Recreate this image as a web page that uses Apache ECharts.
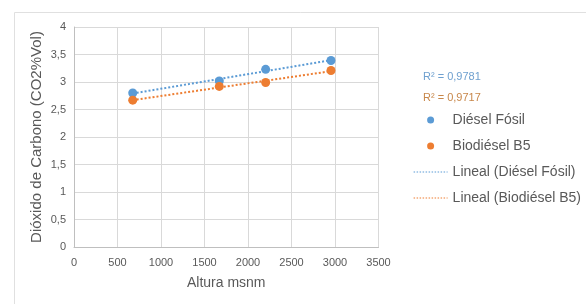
<!DOCTYPE html>
<html><head><meta charset="utf-8">
<script src="https://cdn.jsdelivr.net/npm/echarts@6/dist/echarts.min.js"></script>
<style>html,body{margin:0;padding:0;background:#fff}#c{width:586px;height:304px}</style>
</head><body><div id="c"></div>
<script>
var alturas = [675, 1670, 2203, 2954];
var dieselFosil = [2.80, 3.02, 3.23, 3.39];
var biodieselB5 = [2.67, 2.92, 2.99, 3.21];
var r2Labels = ['R² = 0,9781', 'R² = 0,9717'];
var seriesNames = ['Diésel Fósil', 'Biodiésel B5', 'Lineal (Diésel Fósil)', 'Lineal (Biodiésel B5)'];

function pairs(xs, ys){ return xs.map(function(x,i){return [x, ys[i]];}); }
function trend(xs, ys){
  var n = xs.length, sx=0, sy=0, sxy=0, sxx=0;
  for (var i=0;i<n;i++){ sx+=xs[i]; sy+=ys[i]; sxy+=xs[i]*ys[i]; sxx+=xs[i]*xs[i]; }
  var b = (n*sxy - sx*sy)/(n*sxx - sx*sx), a = (sy - b*sx)/n;
  var x0 = Math.min.apply(null, xs), x1 = Math.max.apply(null, xs);
  return [[x0, a+b*x0],[x1, a+b*x1]];
}
var BLUE = '#5b9bd5', ORANGE = '#ed7d31';
var FONT = 'Liberation Sans, Arial, sans-serif';
var chart = echarts.init(document.getElementById('c'));
chart.setOption({
  backgroundColor: '#fff',
  animation: false,
  textStyle: {fontFamily: FONT},
  grid: {left: 74, right: 207.5, top: 27, bottom: 57},
  xAxis: {
    type: 'value', min: 0, max: 3500, interval: 500,
    name: 'Altura msnm', nameLocation: 'middle', nameGap: 29,
    nameTextStyle: {fontSize: 14, color: '#595959', fontFamily: FONT},
    axisLine: {show: true, lineStyle: {color: '#bfbfbf'}},
    axisTick: {show: false},
    axisLabel: {fontSize: 11, color: '#595959', margin: 10, fontFamily: FONT,
      formatter: function(v){ return String(v); }},
    splitLine: {show: true, lineStyle: {color: '#d9d9d9'}}
  },
  yAxis: {
    type: 'value', min: 0, max: 4, interval: 0.5,
    name: 'Dióxido de Carbono (CO2%Vol)', nameLocation: 'middle', nameGap: 30, nameRotate: 90,
    nameMoveOverlap: false,
    nameTextStyle: {fontSize: 15, color: '#595959', fontFamily: FONT},
    axisLine: {show: true, lineStyle: {color: '#bfbfbf'}},
    axisTick: {show: false},
    axisLabel: {fontSize: 11, color: '#595959', margin: 8, fontFamily: FONT,
      formatter: function(v){ return String(v).replace('.', ','); }},
    splitLine: {show: true, lineStyle: {color: '#d9d9d9'}}
  },
  legend: {
    orient: 'vertical', left: 413, top: 113, padding: 0,
    itemWidth: 34, itemHeight: 7, itemGap: 12,
    textStyle: {fontSize: 14, color: '#595959', fontFamily: FONT},
    data: [
      {name: seriesNames[0], icon: 'circle'},
      {name: seriesNames[1], icon: 'circle'},
      {name: seriesNames[2], itemStyle: {opacity: 0}, lineStyle: {width: 1.2, type: [1.5, 1.5]}},
      {name: seriesNames[3], itemStyle: {opacity: 0}, lineStyle: {width: 1.2, type: [1.5, 1.5]}}
    ]
  },
  graphic: [
    {type: 'rect', left: 12, top: 10, shape: {width: 580, height: 292}, style: {fill: 'none', stroke: '#e0e0e0', lineWidth: 1}, silent: true},
    {type: 'text', left: 423, top: 71, style: {text: r2Labels[0], fill: '#6fa0cf', fontSize: 11, fontFamily: FONT}},
    {type: 'text', left: 423, top: 92, style: {text: r2Labels[1], fill: '#c8874a', fontSize: 11, fontFamily: FONT}}
  ],
  series: [
    {name: seriesNames[2], type: 'line', data: trend(alturas, dieselFosil), symbol: 'none', z: 1,
     lineStyle: {color: BLUE, width: 2, type: [2, 2]}, itemStyle: {color: BLUE}},
    {name: seriesNames[3], type: 'line', data: trend(alturas, biodieselB5), symbol: 'none', z: 1,
     lineStyle: {color: ORANGE, width: 2, type: [2, 2]}, itemStyle: {color: ORANGE}},
    {name: seriesNames[0], type: 'scatter', data: pairs(alturas, dieselFosil), symbolSize: 9, z: 3,
     itemStyle: {color: BLUE, opacity: 1}},
    {name: seriesNames[1], type: 'scatter', data: pairs(alturas, biodieselB5), symbolSize: 9, z: 3,
     itemStyle: {color: ORANGE, opacity: 1}}
  ]
});
</script></body></html>
